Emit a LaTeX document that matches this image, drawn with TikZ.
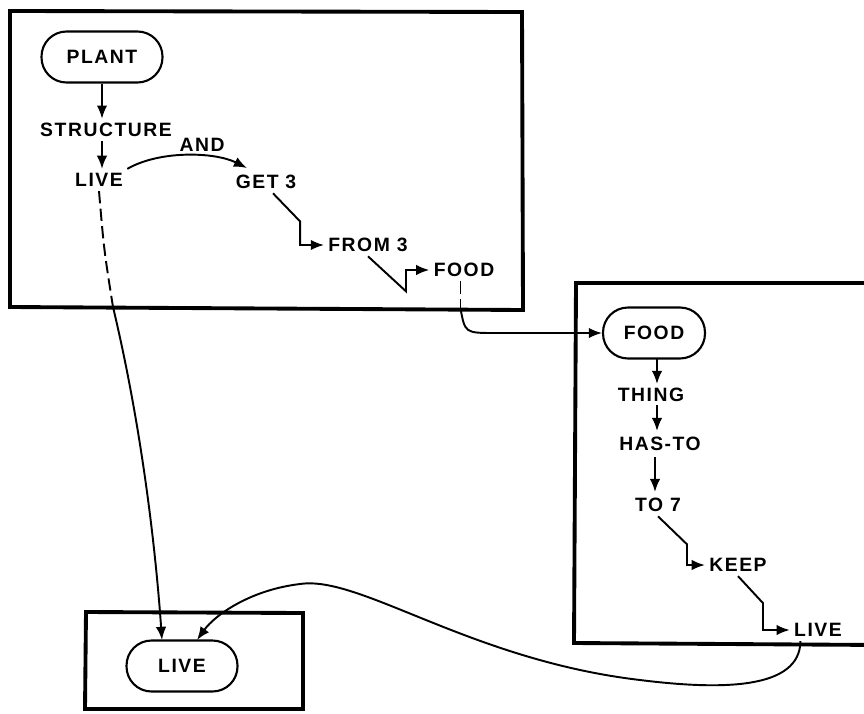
\documentclass[tikz,border=0pt]{standalone}
\usepackage{fontspec}
\setmainfont{Liberation Sans}
\newfontfamily\lettering[LetterSpace=8]{Liberation Sans}
\tikzset{arrowto/.style = {-{Latex[length=7.5pt, width=6pt]}}}
\tikzset{word/.style = {font=\lettering\fontsize{11}{13}\selectfont\bfseries, inner sep=2pt},
         oval/.style = {word, draw, line width=1.2pt, rounded corners=0.5cm, minimum height=1.02cm},
         frame/.style = {line width=2.2pt}}
\usetikzlibrary{calc,arrows.meta}

\begin{document}
\begin{tikzpicture}[x=0.02cm, y=-0.02cm, line width=1.1pt]
\useasboundingbox (0,0) rectangle (864,713);
\draw[frame] (10,11) -- (522,12) -- (523,310) -- (10,307) -- cycle;
\draw[frame] (880,283) -- (576,283) -- (574,643) -- (880,645);
\draw[frame] (86,612) -- (303,613) -- (303,709) -- (85,709) -- cycle;
\node[oval, minimum width=2.42cm] (plant) at (102,57) {PLANT};
\node[word] (struct) at (106,130) {STRUCTURE};
\node[word] (live) at (99,180) {LIVE};
\node[word] (and) at (202,145) {AND};
\node[word] (get) at (266,182) {GET 3};
\node[word] (from) at (368,245) {FROM 3};
\node[word] (food) at (464,270) {FOOD};
\node[oval, minimum width=2.04cm] (foodb) at (654,333) {FOOD};
\node[word] (thing) at (651,395) {THING};
\node[word] (hasto) at (660,444) {HAS-TO};
\node[word] (to) at (658,505) {TO 7};
\node[word] (keep) at (738,565) {KEEP};
\node[word] (liveb) at (818,630) {LIVE};
\node[oval, minimum width=2.22cm] (livec) at (182,666) {LIVE};
\draw[arrowto] (plant.south) -- (plant.south |- struct.north);
\draw[arrowto] (plant.south |- struct.south) -- (plant.south |- live.north);
\draw[arrowto] (live.north east) .. controls (160,150) and (215,152) .. (247,168);
\draw[arrowto] ([xshift=4]get.south) -- ++(27,28) |- (from.west);
\draw[arrowto] (from.south) -- ++(38,35) |- (food.west);
\draw[dashed, dash pattern=on 7pt off 3pt] ([xshift=-2]food.south) -- ++(0,27) coordinate (fdrop);
\draw[arrowto] (fdrop) .. controls (465,333) .. (495,333) -- (foodb.west);
\draw[arrowto] (657,358) -- (657,384);
\draw[arrowto] (657,405) -- (657,431);
\draw[arrowto] (655,457) -- (655,492);
\draw[arrowto] (to.south) -- ++(29,28) |- (keep.west);
\draw[arrowto] (keep.south) -- ++(25,27) |- (liveb.west);
\draw[dashed, dash pattern=on 7pt off 3pt] (live.south) .. controls (104,250) .. (113,307) coordinate (ldrop);
\draw[arrowto] (ldrop) .. controls (140,420) and (155,540) .. (162,640);
\draw[arrowto] ([xshift=-10]liveb.south) .. controls (800,690) and (720,690) .. (640,680)
  .. controls (470,660) and (360,575) .. (300,584)
  .. controls (250,590) and (215,615) .. (197,640);
\end{tikzpicture}
\end{document}
